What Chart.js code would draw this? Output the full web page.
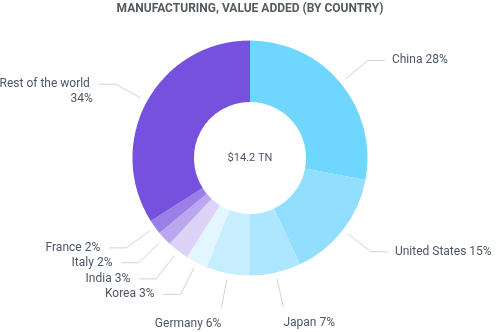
<!DOCTYPE html>
<html>
<head>
<meta charset="utf-8">
<script src="https://cdn.jsdelivr.net/npm/chart.js@4"></script>
<style>
    html, body { margin: 0; padding: 0; background: #ffffff; }
    #wrap { width: 500px; height: 332px; }
</style>
</head>
<body>
<div id="wrap"><canvas id="grafica"></canvas></div>
<script>
const categories = ['China', 'United States', 'Japan', 'Germany', 'Korea', 'India', 'Italy', 'France', 'Rest of the world'];
const shares = [28, 15, 7, 6, 3, 3, 2, 2, 34];
const centerLabel = '$14.2 TN';
const chartTitle = 'MANUFACTURING, VALUE ADDED (BY COUNTRY)';

const sliceColors = [
    'rgb(110, 214, 255)', // China
    'rgb(145, 222, 255)', // US
    'rgb(172, 231, 255)', // Japan
    'rgb(199, 238, 255)', // Germany
    'rgb(226, 246, 255)', // Korea
    'rgb(221, 211, 246)', // India
    'rgb(187, 166, 240)', // Italy
    'rgb(155, 126, 232)', // France
    'rgb(117, 81, 221)'   // Rest
];

const textColor = '#4d5666';
const tickColor = '#cfd2d6';
const labelFont = '12px Roboto';

// labels outside the ring, with leader lines
const outsideLabels = {
    id: 'outsideLabels',
    afterDatasetsDraw(chart) {
        const ctx = chart.ctx;
        const meta = chart.getDatasetMeta(0);
        const total = shares.reduce((a, b) => a + b, 0);

        ctx.save();
        ctx.font = labelFont;
        ctx.strokeStyle = tickColor;
        ctx.lineWidth = 1;
        ctx.fillStyle = textColor;

        meta.data.forEach((arc, i) => {
            const p = arc.getProps(['x', 'y', 'startAngle', 'endAngle', 'outerRadius'], true);
            const mid = (p.startAngle + p.endAngle) / 2;
            const cos = Math.cos(mid);
            const sin = Math.sin(mid);
            const x0 = p.x + (p.outerRadius + 6.5) * cos;
            const y0 = p.y + (p.outerRadius + 6.5) * sin;
            const x1 = p.x + (p.outerRadius + 35.5) * cos;
            const y1 = p.y + (p.outerRadius + 35.5) * sin;
            const right = cos >= 0;
            const pct = Math.round(shares[i] / total * 100) + '%';
            const full = categories[i] + ' ' + pct;

            ctx.beginPath();
            ctx.moveTo(x0, y0);
            ctx.lineTo(x1, y1);

            if (Math.abs(cos) < 0.3) {
                // bottom labels: text sits under the line end
                ctx.stroke();
                ctx.textAlign = right ? 'left' : 'right';
                ctx.textBaseline = 'middle';
                ctx.fillText(full, x1, y1 + 15.5);
                return;
            }

            const x2 = x1 + (right ? 17 : -17);
            ctx.lineTo(x2, y1);
            ctx.stroke();

            const tx = x2 + (right ? 7 : -9);
            ctx.textAlign = right ? 'left' : 'right';
            ctx.textBaseline = 'middle';
            if (ctx.measureText(full).width > 105) {
                ctx.fillText(categories[i], tx, y1);
                ctx.fillText(pct, tx + (right ? 0 : 3), y1 + 15);
            } else {
                ctx.fillText(full, tx, y1);
            }
        });
        ctx.restore();
    },
    afterDraw(chart) {
        const meta = chart.getDatasetMeta(0);
        if (!meta.data.length) return;
        const p = meta.data[0].getProps(['x', 'y'], true);
        const ctx = chart.ctx;
        ctx.save();
        ctx.font = '11px Roboto';
        ctx.fillStyle = textColor;
        ctx.textAlign = 'center';
        ctx.textBaseline = 'middle';
        ctx.fillText(centerLabel, p.x, p.y);
        ctx.restore();
    }
};

const chart = new Chart(document.getElementById('grafica'), {
    type: 'doughnut',
    data: {
        labels: categories,
        datasets: [{
            data: shares,
            backgroundColor: sliceColors,
            borderWidth: 0,
            hoverOffset: 0
        }]
    },
    options: {
        responsive: true,
        maintainAspectRatio: false,
        animation: false,
        cutout: '47.7%',
        layout: { padding: { top: 0, bottom: 56.5, left: 0, right: 0 } },
        plugins: {
            legend: { display: false },
            tooltip: { enabled: false },
            title: {
                display: true,
                text: chartTitle,
                color: '#555a60',
                font: { family: 'Roboto', size: 12, weight: 'bold' },
                padding: { top: 2, bottom: 24 }
            }
        }
    },
    plugins: [outsideLabels]
});
</script>
</body>
</html>
